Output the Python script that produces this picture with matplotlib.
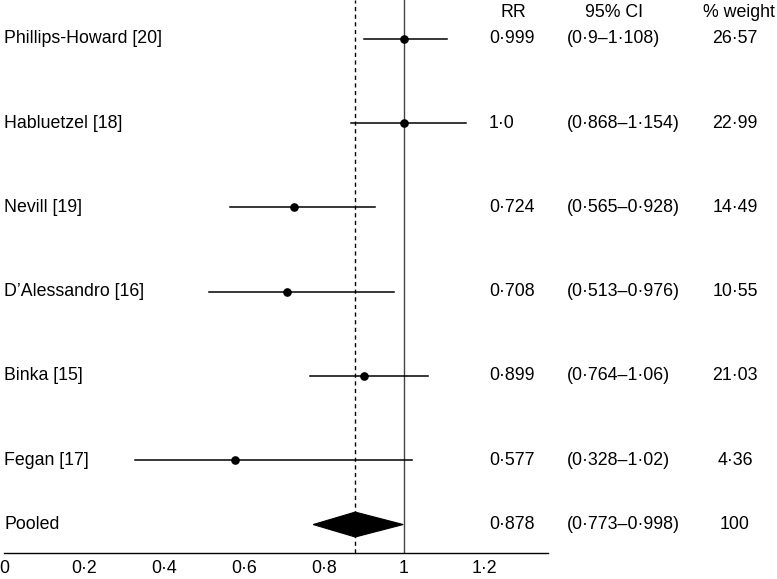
import matplotlib
matplotlib.use("Agg")
import matplotlib.pyplot as plt
from matplotlib.patches import Polygon

plt.rcParams['font.family'] = ['Liberation Sans', 'DejaVu Sans']

studies = ["Phillips-Howard [20]", "Habluetzel [18]", "Nevill [19]",
           "D\u2019Alessandro [16]", "Binka [15]", "Fegan [17]"]
rr = [0.999, 1.0, 0.724, 0.708, 0.899, 0.577]
ci_low = [0.9, 0.868, 0.565, 0.513, 0.764, 0.328]
ci_high = [1.108, 1.154, 0.928, 0.976, 1.06, 1.02]
weights = [26.57, 22.99, 14.49, 10.55, 21.03, 4.36]
rr_text = ["0\u00b7999", "1\u00b70", "0\u00b7724", "0\u00b7708", "0\u00b7899", "0\u00b7577"]
ci_text = ["(0\u00b79\u20131\u00b7108)", "(0\u00b7868\u20131\u00b7154)", "(0\u00b7565\u20130\u00b7928)",
           "(0\u00b7513\u20130\u00b7976)", "(0\u00b7764\u20131\u00b706)", "(0\u00b7328\u20131\u00b702)"]
w_text = ["26\u00b757", "22\u00b799", "14\u00b749", "10\u00b755", "21\u00b703", "4\u00b736"]

pooled_label = "Pooled"
pooled_rr = 0.878
pooled_low = 0.773
pooled_high = 0.998
pooled_rr_text = "0\u00b7878"
pooled_ci_text = "(0\u00b7773\u20130\u00b7998)"
pooled_w_text = "100"

xticks = [0, 0.2, 0.4, 0.6, 0.8, 1.0, 1.2]
xtick_labels = ["0", "0\u00b72", "0\u00b74", "0\u00b76", "0\u00b78", "1", "1\u00b72"]

W, H = 777, 579
fig = plt.figure(figsize=(W / 100, H / 100), dpi=100)
ax = fig.add_axes([0, (H - 553) / H, 1, 553 / H])
ax.set_xlim(-0.01, 1.9325)
ax.set_ylim(6.104, -0.463)

FS = 12.8
ys = list(range(len(studies)))
pooled_y = 5.766

ax.axvline(1.0, color="#444444", lw=1.0, zorder=1)
ax.axvline(pooled_rr, color="black", lw=1.0, ls=(0, (3, 2.5)), zorder=1)

for y, lo, hi, r in zip(ys, ci_low, ci_high, rr):
    ax.plot([lo, hi], [y, y], color="black", lw=1.1, zorder=2)
    ax.plot([r], [y], marker="o", color="black", ms=5.2, zorder=3)

dh = 0.148
diamond = Polygon([[pooled_low, pooled_y], [pooled_rr, pooled_y - dh],
                   [pooled_high, pooled_y], [pooled_rr, pooled_y + dh]],
                  closed=True, facecolor="black", edgecolor="black", lw=0.8, zorder=3)
ax.add_patch(diamond)

x_rr, x_ci, x_w = 1.2125, 1.4075, 1.8275
for y, s, a, b, c in zip(ys, studies, rr_text, ci_text, w_text):
    ax.text(0.0, y, s, ha="left", va="center", fontsize=FS)
    ax.text(x_rr, y, a, ha="left", va="center", fontsize=FS)
    ax.text(x_ci, y, b, ha="left", va="center", fontsize=FS)
    ax.text(x_w, y, c, ha="center", va="center", fontsize=FS)

ax.text(0.0, pooled_y, pooled_label, ha="left", va="center", fontsize=FS)
ax.text(x_rr, pooled_y, pooled_rr_text, ha="left", va="center", fontsize=FS)
ax.text(x_ci, pooled_y, pooled_ci_text, ha="left", va="center", fontsize=FS)
ax.text(x_w, pooled_y, pooled_w_text, ha="center", va="center", fontsize=FS)

hy = -0.32
ax.text(1.2725, hy, "RR", ha="center", va="center", fontsize=FS)
ax.text(1.525, hy, "95% CI", ha="center", va="center", fontsize=FS)
ax.text(1.8375, hy, "% weight", ha="center", va="center", fontsize=FS)

for side in ["top", "right", "left"]:
    ax.spines[side].set_visible(False)
ax.spines["bottom"].set_bounds(0, 1.36)
ax.spines["bottom"].set_linewidth(1.0)
ax.set_yticks([])
ax.set_xticks(xticks)
ax.set_xticklabels(xtick_labels, fontsize=FS)
ax.tick_params(axis="x", length=0, pad=5)

fig.savefig("out.png", dpi=100)
